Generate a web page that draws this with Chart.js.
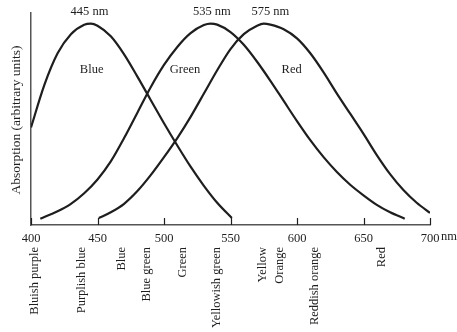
<!DOCTYPE html>
<html>
<head>
<meta charset="utf-8">
<style>
  html, body { margin: 0; padding: 0; background: #fff; }
  #wrap { width: 457px; height: 332px; position: relative; }
</style>
<script src="https://cdn.jsdelivr.net/npm/chart.js@4.4.1/dist/chart.umd.min.js"></script>
</head>
<body>
<div id="wrap"><canvas id="c" width="457" height="332"></canvas></div>
<script>
// Wavelength ticks (nm)
const tickValues = [400, 450, 500, 550, 600, 650, 700];

// Blue cone absorption curve
const blueNm  = [400, 410, 420, 430, 440, 445, 450, 460, 470, 480, 490, 500, 510, 520, 530, 540, 551];
const blueVal = [46, 66, 81, 90, 94.5, 95, 94, 89, 80.5, 70, 59, 48, 37.5, 27.5, 18.5, 10.5, 3.3];

// Green cone absorption curve
const greenNm  = [407, 420, 430, 440, 450, 460, 470, 480, 490, 500, 510, 520, 530, 535, 540, 550, 560, 570, 580, 590, 600, 610, 620, 630, 640, 650, 660, 670, 681];
const greenVal = [3, 6.5, 10, 15, 21.5, 30, 41, 53, 65, 75.5, 84, 90.5, 94.3, 95, 94.5, 91, 85, 77, 68, 58.5, 49, 40, 32, 25, 19, 14, 9.5, 6, 3];

// Red cone absorption curve
const redNm  = [451, 460, 470, 480, 490, 500, 510, 520, 530, 540, 550, 560, 570, 575, 580, 590, 600, 610, 620, 630, 640, 650, 660, 670, 680, 690, 700];
const redVal = [3.3, 6, 10, 16, 23.5, 32, 41, 51, 62, 73, 83, 90, 94, 95, 94.5, 92.3, 88, 81, 72, 62, 52.5, 43, 33, 24, 16.5, 10.5, 5.7];

// Peak annotations
const peakLabels = ["445 nm", "535 nm", "575 nm"];
const peakNm = [444, 536, 580];

// Curve name annotations
const curveLabels = ["Blue", "Green", "Red"];
const curveLabelNm = [445.6, 515.8, 596];

// Colour names along wavelength axis
const colourNames = ["Bluish purple", "Purplish blue", "Blue", "Blue green", "Green", "Yellowish green", "Yellow", "Orange", "Reddish orange", "Red"];
const colourNm = [403, 438, 468, 487, 514, 540, 574, 587, 613.5, 664];

const yTitle = "Absorption (arbitrary units)";

function toXY(xs, ys) { return xs.map((x, i) => ({ x: x, y: ys[i] })); }

const SERIF = "'Liberation Serif', 'DejaVu Serif', serif";
const INK = "#1e1e1e";

const annotate = {
  id: 'annotate',
  afterDraw(chart) {
    const ctx = chart.ctx;
    const xs = chart.scales.x, ys = chart.scales.y;
    const base = ys.getPixelForValue(0);
    ctx.save();
    // inner tick marks
    ctx.strokeStyle = INK;
    ctx.lineWidth = 1.2;
    tickValues.forEach(v => {
      const px = Math.round(xs.getPixelForValue(v)) + 0.5;
      ctx.beginPath();
      ctx.moveTo(px, base);
      ctx.lineTo(px, base - 7);
      ctx.stroke();
    });
    ctx.fillStyle = INK;
    // peak labels
    ctx.font = "12.5px " + SERIF;
    ctx.textAlign = 'center';
    ctx.textBaseline = 'middle';
    peakLabels.forEach((t, i) => {
      ctx.fillText(t, xs.getPixelForValue(peakNm[i]), 12);
    });
    // curve labels
    curveLabels.forEach((t, i) => {
      ctx.fillText(t, xs.getPixelForValue(curveLabelNm[i]), 70);
    });
    // "nm" after 700
    ctx.textAlign = 'left';
    ctx.fillText("nm", xs.getPixelForValue(700) + 11, base + 12);
    // colour names rotated
    colourNames.forEach((t, i) => {
      ctx.save();
      ctx.translate(xs.getPixelForValue(colourNm[i]), 247);
      ctx.rotate(-Math.PI / 2);
      ctx.textAlign = 'right';
      ctx.textBaseline = 'middle';
      ctx.fillText(t, 0, 0);
      ctx.restore();
    });
    // y title
    ctx.save();
    ctx.translate(16, 120);
    ctx.rotate(-Math.PI / 2);
    ctx.textAlign = 'center';
    ctx.textBaseline = 'middle';
    ctx.font = "13.5px " + SERIF;
    ctx.fillText(yTitle, 0, 0);
    ctx.restore();
    ctx.restore();
  }
};

const lineStyle = {
  borderColor: INK,
  borderWidth: 2.2,
  pointRadius: 0,
  fill: false,
  cubicInterpolationMode: 'monotone'
};

new Chart(document.getElementById('c'), {
  type: 'line',
  data: {
    datasets: [
      Object.assign({ label: 'Blue', data: toXY(blueNm, blueVal) }, lineStyle),
      Object.assign({ label: 'Green', data: toXY(greenNm, greenVal) }, lineStyle),
      Object.assign({ label: 'Red', data: toXY(redNm, redVal) }, lineStyle)
    ]
  },
  options: {
    responsive: false,
    animation: false,
    events: [],
    layout: { padding: { top: 13, right: 27, left: 0, bottom: 0 } },
    plugins: { legend: { display: false }, tooltip: { enabled: false } },
    scales: {
      x: {
        type: 'linear',
        min: 400, max: 700,
        afterBuildTicks(scale) { scale.ticks = tickValues.map(v => ({ value: v })); },
        afterFit(scale) { scale.height = 107; },
        grid: { display: false, drawTicks: false },
        border: { display: true, color: '#555', width: 1.5 },
        ticks: {
          padding: 6,
          autoSkip: false,
          maxRotation: 0,
          color: INK,
          font: { family: SERIF, size: 12.5 },
          callback: v => String(v)
        }
      },
      y: {
        min: 0, max: 100,
        afterFit(scale) { scale.width = 31; },
        grid: { display: false, drawTicks: false },
        border: { display: true, color: '#555', width: 1.5 },
        ticks: { display: false }
      }
    }
  },
  plugins: [annotate]
});
</script>
</body>
</html>
